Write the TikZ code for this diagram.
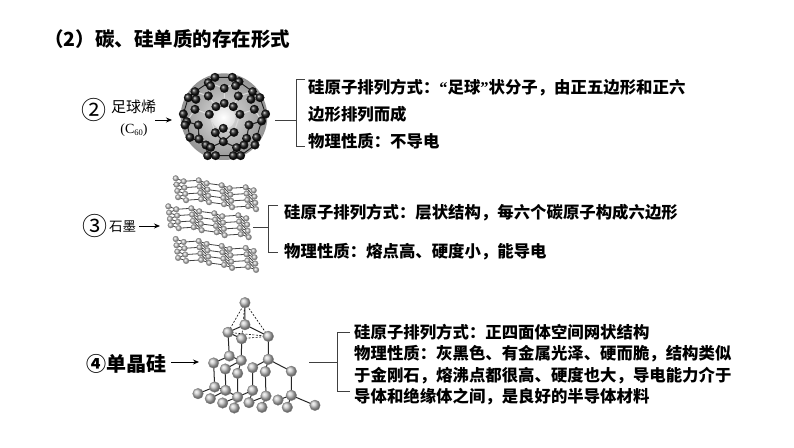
\documentclass[tikz,border=0pt]{standalone}
\usepackage{fontspec}
\setmainfont{Liberation Serif}
\newfontfamily\cjk{Noto Sans CJK SC}
\newfontfamily\quotefont{Liberation Serif}
\usetikzlibrary{arrows.meta}
\tikzset{
	bodytext/.style = {anchor = base west, inner sep = 0pt, font = \cjk\bfseries\fontsize{16.4}{18}\selectfont},
	bracketline/.style = {line width = 0.9pt, black!75},
	tagarrow/.style = {line width = 0.8pt, -{Stealth[length = 6pt, width = 5pt]}},
	bond/.style = {line width = 0.8pt, black!75},
	sibond/.style = {line width = 1pt, black!85},
	gball/.style = {ball color = black!22, draw = black!45, line width = 0.2pt},
	siball/.style = {ball color = black!22, draw = black!50, line width = 0.3pt},
	cball/.style = {ball color = black!90, draw = black, line width = 0.2pt},
	graphite/.pic = {
		\foreach \r in {0,1,2,3} {
			\begin{scope}[shift = {(0.8*\r,6.3*\r)}]
				\draw[bond] (0,0) -- (8,3) -- (23,2) -- (31,5) -- (46,7) -- (54,10) -- (70,9) -- (78,12);
				\ifnum\r<3
					\draw[bond] (8,3) -- (1,6.3) (23,2) -- (31.8,11.3) (46,7) -- (54.8,16.3) (70,9) -- (78.8,18.3);
				\fi
				\foreach \p in {(0,0),(8,3),(23,2),(31,5),(46,7),(54,10),(70,9),(78,12)}
					\shade[gball] \p circle (2.9);
			\end{scope}
		}
	}
}
\begin{document}
\begin{tikzpicture}[x = 1pt, y = -1pt]
	\useasboundingbox (0,0) rectangle (794,447);
	\fill[white] (0,0) rectangle (794,447);

	% title
	\node[anchor = base west, inner sep = 0pt, font = \cjk\bfseries\fontsize{19.5}{22}\selectfont] (title) at (44,46) {（2）碳、硅单质的存在形式};

	% row 2
	\node[inner sep = 0pt, font = \cjk\fontsize{25}{26}\selectfont] (numa) at (94,110) {②};
	\node[anchor = west, inner sep = 0pt, font = \cjk\fontsize{15}{16}\selectfont] (taga) at (111,107) {足球烯};
	\node[inner sep = 0pt, font = \fontsize{14}{16}\selectfont] (formula) at (134,130) {(C\raisebox{-2pt}{\fontsize{8.5}{9}\selectfont 60})};
	\coordinate (arra) at (155,120);
	\coordinate (enda) at (172,120);
	\draw[tagarrow] (arra) -- (enda);
	\begin{scope}[shift = {(90,60)}, x = 0.3333pt, y = -0.3333pt]
		\shade[inner color = black!12, outer color = black!42] (402,170) circle (130);
		\shade[inner color = white, outer color = black!12] (400,172) circle (36);
		\draw[line width = 0.9pt, black!90] (375,52) -- (355,68) -- (315,95) -- (295,113) -- (280,162) -- (290,185) -- (300,232) -- (348,255) -- (353,287) -- (377,287) -- (430,287) -- (452,287) -- (495,255) -- (500,232) -- (515,183) -- (527,162) -- (510,113) -- (488,95) -- (447,65) -- (427,52) -- (375,52);
		\draw[line width = 1.1pt, white!85!black] (355,68) -- (403,85) -- (447,65) (403,85) -- (403,130) (315,95) -- (355,108) -- (378,140) -- (403,130) -- (430,140) -- (445,108) -- (488,95);
		\draw[line width = 1.1pt, white!85!black] (315,148) -- (358,163) -- (376,218) -- (400,205) -- (432,217) -- (450,163) -- (493,148) (315,148) -- (290,185) (493,148) -- (515,183) (358,163) -- (378,140) (450,163) -- (430,140);
		\draw[line width = 1.1pt, black!85] (325,195) -- (327,237) -- (362,262) -- (400,245) -- (440,263) -- (470,235) -- (477,195) (376,218) -- (400,245) (432,217) -- (400,245) (325,195) -- (290,185) (477,195) -- (515,183);
		\foreach \p in {(375,52),(355,68),(362,78),(427,52),(447,65),(437,77),(403,85),(315,95),(295,113),(318,118),(355,108),(488,95),(510,113),(483,118),(445,108),(403,130),(378,140),(358,163),(450,163),(430,140),(280,162),(315,148),(290,185),(285,195),(325,195),(300,232),(327,237),(348,255),(362,262),(376,218),(400,205),(432,217),(400,245),(470,235),(500,232),(495,255),(462,255),(527,162),(493,148),(515,183),(477,195),(353,287),(377,287),(430,287),(452,287),(440,263)}
			\shade[cball] \p circle (13);
	\end{scope}
	\coordinate (stema) at (275,120.5);
	\coordinate (topa) at (305,79);
	\coordinate (bota) at (305,146);
	\draw[bracketline] (stema) -- (296,120.5);
	\draw[bracketline] (topa) -- (296,79) -- (296,146) -- (bota);
	\node[bodytext] (texta) at (308,93) {硅原子排列方式：{\quotefont “}足球{\quotefont ”}状分子，由正五边形和正六};
	\node[bodytext] (textb) at (308,120) {边形排列而成};
	\node[bodytext] (textc) at (308,147) {物理性质：不导电};

	% row 3
	\node[inner sep = 0pt, font = \cjk\fontsize{25}{26}\selectfont] (numb) at (95,226) {③};
	\node[anchor = west, inner sep = 0pt, font = \cjk\fontsize{13.5}{15}\selectfont] (tagb) at (109,227) {石墨};
	\coordinate (arrb) at (139,226);
	\coordinate (endb) at (160,226);
	\draw[tagarrow] (arrb) -- (endb);
	\pic at (175.7,178.3) {graphite};
	\pic at (168.3,206.3) {graphite};
	\pic at (175.7,239) {graphite};
	\coordinate (stemb) at (253,227.5);
	\coordinate (topb) at (278,205.5);
	\coordinate (botb) at (278,252);
	\draw[bracketline] (stemb) -- (268,227.5);
	\draw[bracketline] (topb) -- (268,205.5) -- (268,252) -- (botb);
	\node[bodytext] (textd) at (284,218) {硅原子排列方式：层状结构，每六个碳原子构成六边形};
	\node[bodytext] (texte) at (284,257) {物理性质：熔点高、硬度小，能导电};

	% row 4
	\node[anchor = west, inner sep = 0pt, font = \cjk\bfseries\fontsize{20}{22}\selectfont] (tagc) at (86,364) {④单晶硅};
	\coordinate (arrc) at (171,362);
	\coordinate (endc) at (199,362);
	\draw[tagarrow] (arrc) -- (endc);
	\begin{scope}[shift = {(80,290)}, x = 0.3333pt, y = -0.3333pt]
		\foreach \n/\p in {t/{495,38},a/{495,104},b/{444,127},c/{485,146},d/{565,139},e/{448,198},f/{484,211},g/{565,208},h/{401,219},i/{436,237},j/{518,233},k/{556,245},l/{634,244},m/{473,250},n/{404,291},o/{437,301},p/{518,301},q/{354,311},r/{391,326},s/{473,321},u/{428,339},v/{558,318},w/{507,338},x/{594,330},y/{634,316},z/{463,354},aa/{546,352},ab/{622,352},ac/{705,346}}
			\coordinate (\n) at (\p);
		\draw[sibond] (t) -- (a) (a) -- (b) (a) -- (d) (b) -- (c) (b) -- (e) (c) -- (f) (d) -- (g);
		\draw[sibond] (e) -- (h) (e) -- (f) (f) -- (i) (f) -- (m) (g) -- (j) (g) -- (k) (g) -- (l);
		\draw[sibond] (h) -- (n) (i) -- (o) (j) -- (p) (k) -- (v) (l) -- (y) (m) -- (s) (n) -- (q) (n) -- (o) (o) -- (r) (o) -- (s);
		\draw[sibond] (p) -- (s) (p) -- (w) (s) -- (u) (s) -- (z) (v) -- (w) (v) -- (aa) (y) -- (x) (y) -- (ab) (y) -- (ac);
		\draw[line width = 0.6pt, dash pattern = on 2pt off 1.5pt] (t) -- (b) (t) -- (d) (t) -- (c) (b) -- (d) (c) -- (d);
		\foreach \n in {t,a,b,c,d,e,f,g,h,i,j,k,l,m,n,o,p,q,r,s,u,v,w,x,y,z,aa,ab,ac}
			\shade[siball] (\n) circle (16);
	\end{scope}
	\coordinate (stemc) at (309,362);
	\coordinate (topc) at (350,332.5);
	\coordinate (botc) at (350,391.5);
	\draw[bracketline] (stemc) -- (337,362);
	\draw[bracketline] (topc) -- (337,332.5) -- (337,391.5) -- (botc);
	\node[bodytext] (textf) at (354,338) {硅原子排列方式：正四面体空间网状结构};
	\node[bodytext] (textg) at (354,359) {物理性质：灰黑色、有金属光泽、硬而脆，结构类似};
	\node[bodytext] (texth) at (354,381) {于金刚石，熔沸点都很高、硬度也大，导电能力介于};
	\node[bodytext] (texti) at (354,402) {导体和绝缘体之间，是良好的半导体材料};
\end{tikzpicture}
\end{document}
